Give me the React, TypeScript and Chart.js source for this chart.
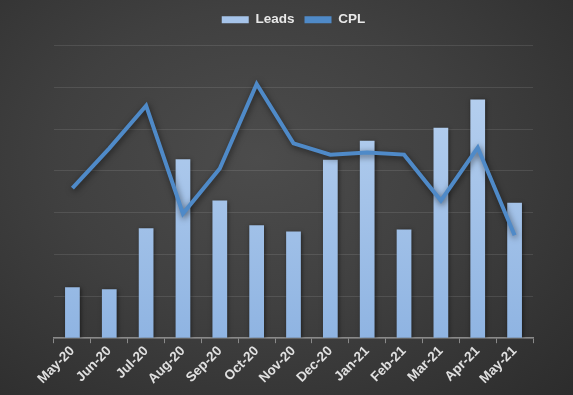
import React, { useEffect, useRef } from "react";
import { Chart, registerables } from "chart.js";

Chart.register(...registerables);

const categories = ["May-20", "Jun-20", "Jul-20", "Aug-20", "Sep-20", "Oct-20", "Nov-20", "Dec-20", "Jan-21", "Feb-21", "Mar-21", "Apr-21", "May-21"];
const leads = [122, 117, 263, 428, 329, 270, 255, 427, 472, 260, 503, 571, 324];
const cpl = [35.9, 45.4, 55.6, 29.8, 40.6, 60.8, 46.6, 43.9, 44.4, 43.9, 32.9, 45.6, 24.6];

const shadowPlugin = {
  id: "shadowPlugin",
  beforeDatasetDraw(chart: any, args: any) {
    const ctx = chart.ctx;
    ctx.save();
    if (args.index === 1) {
      ctx.shadowColor = "rgba(0,0,0,0.55)";
      ctx.shadowBlur = 6;
      ctx.shadowOffsetX = 1;
      ctx.shadowOffsetY = 2;
    } else {
      ctx.shadowColor = "rgba(0,0,0,0.5)";
      ctx.shadowBlur = 4;
      ctx.shadowOffsetX = 1;
      ctx.shadowOffsetY = 1;
    }
  },
  afterDatasetDraw(chart: any) {
    chart.ctx.restore();
  },
};

const legendGap = {
  id: "legendGap",
  beforeInit(chart: any) {
    const origFit = chart.legend.fit;
    chart.legend.fit = function fit() {
      origFit.bind(chart.legend)();
      this.height += 9;
    };
  },
};

export default function App() {
  const ref = useRef<HTMLCanvasElement>(null);
  useEffect(() => {
    document.body.style.margin = "0";
    const canvas = ref.current!;
    const chart = new Chart(canvas, {
      type: "bar",
      data: {
        labels: categories,
        datasets: [
          {
            type: "bar",
            label: "Leads",
            data: leads,
            yAxisID: "y",
            order: 2,
            backgroundColor: (c: any) => {
              const area = c.chart.chartArea;
              if (!area) return "#a6c4ea";
              const g = c.chart.ctx.createLinearGradient(0, area.top, 0, area.bottom);
              g.addColorStop(0, "#bcd4f1");
              g.addColorStop(1, "#8fb4e2");
              return g;
            },
            borderWidth: 0,
            barPercentage: 0.4,
            categoryPercentage: 1,
          },
          {
            type: "line",
            label: "CPL",
            data: cpl,
            yAxisID: "y2",
            order: 1,
            borderColor: "#4f8ac8",
            backgroundColor: "#4f8ac8",
            borderWidth: 4,
            pointRadius: 0,
            tension: 0,
            borderJoinStyle: "miter",
          } as any,
        ],
      },
      options: {
        animation: false,
        responsive: false,
        layout: { padding: { left: 54, right: 40, top: 3, bottom: 8 } },
        plugins: {
          legend: {
            position: "top",
            labels: {
              color: "#e8e8e8",
              font: { family: "Liberation Sans", size: 13.5, weight: "bold" },
              boxWidth: 27,
              boxHeight: 7,
              padding: 10,
              generateLabels: () => [
                { text: "Leads", fillStyle: "#a6c4ea", strokeStyle: "#a6c4ea", lineWidth: 0, fontColor: "#e8e8e8", datasetIndex: 0 } as any,
                { text: "CPL", fillStyle: "#4f8ac8", strokeStyle: "#4f8ac8", lineWidth: 0, fontColor: "#e8e8e8", datasetIndex: 1 } as any,
              ],
            },
          },
          tooltip: { enabled: false },
        },
        scales: {
          x: {
            offset: true,
            grid: {
              display: true,
              offset: true,
              drawOnChartArea: false,
              drawTicks: true,
              tickLength: 5,
              color: "#8a8a8a",
            },
            border: { display: true, color: "#8a8a8a", width: 1.5 },
            ticks: {
              color: "#e0e0e0",
              font: { family: "Liberation Sans", size: 13.5, weight: "bold" },
              maxRotation: 45,
              minRotation: 45,
              padding: 0,
            },
          },
          y: {
            min: 0,
            max: 700,
            ticks: { display: false, stepSize: 100 },
            grid: { color: "rgba(255,255,255,0.1)", drawTicks: false },
            border: { display: false },
          },
          y2: {
            min: 0,
            max: 70,
            display: false,
            position: "right",
            grid: { display: false },
          },
        },
      },
      plugins: [shadowPlugin, legendGap],
    } as any);
    return () => chart.destroy();
  }, []);
  return (
    <div
      style={{
        position: "absolute",
        left: 0,
        top: 0,
        width: 573,
        height: 395,
        background: "radial-gradient(ellipse at 45% 40%, #4c4c4c 0%, #404040 45%, #2c2c2c 100%)",
      }}
    >
      <canvas ref={ref} width={573} height={395} />
    </div>
  );
}
